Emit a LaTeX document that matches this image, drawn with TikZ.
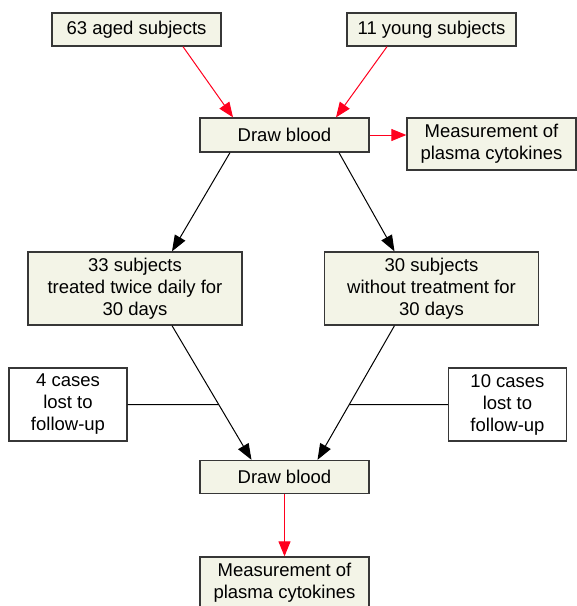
\documentclass[tikz,border=0pt]{standalone}
\usepackage{fontspec}
\setmainfont{Liberation Sans}
\usetikzlibrary{arrows.meta,calc,positioning}
\definecolor{boxfill}{RGB}{243,244,231}
\definecolor{boxline}{RGB}{55,55,55}
\definecolor{arrowred}{RGB}{255,0,30}
\tikzset{
  box/.style={draw=boxline, line width=1.3pt, fill=boxfill, align=center, inner sep=0pt, font=\fontsize{18.5}{22}\selectfont},
  lostbox/.style={box, fill=white, minimum width=118pt, minimum height=73pt},
  redarrow/.style={draw=arrowred, line width=1pt, -{Triangle[length=15pt,width=12pt]}},
  blackarrow/.style={draw=black, line width=1pt, -{Triangle[length=16pt,width=12pt]}}
}

\begin{document}
\begin{tikzpicture}[x=1pt,y=-1pt]
\useasboundingbox (0,0) rectangle (577,606);
% first blood draw
\node[box, minimum width=169pt, minimum height=33pt] (aged) at (136.5,29.5) {63 aged subjects};
\node[box, minimum width=169pt, minimum height=33pt] (young) at (431.5,29.5) {11 young subjects};
\node[box, minimum width=169pt, minimum height=34pt] (blood1) at (284.5,135) {Draw blood};
\node[box, minimum width=169pt, minimum height=52pt] (meas1) at (491.5,144) {Measurement of\\plasma cytokines};
% groups
\node[box, minimum width=214pt, minimum height=73pt] (treated) at (135,288.5) {33 subjects\\treated twice daily for\\30 days};
\node[box, minimum width=214pt, minimum height=73pt] (untreated) at (431.5,288.5) {30 subjects\\without treatment for\\30 days};
\node[lostbox] (lost4) at (68,404.5) {4 cases\\lost to\\follow-up};
\node[lostbox] (lost10) at (507.5,404.5) {10 cases\\lost to\\follow-up};
% second blood draw
\node[box, minimum width=169pt, minimum height=33pt] (blood2) at (284.5,477) {Draw blood};
\node[box, minimum width=169pt, minimum height=52pt] (meas2) at (284.5,583) {Measurement of\\plasma cytokines};

\draw[redarrow] ([xshift=46.5pt]aged.south) -- ([xshift=-51.5pt]blood1.north);
\draw[redarrow] ([xshift=-44.5pt]young.south) -- ([xshift=51.5pt]blood1.north);
\draw[redarrow] (blood1.east) -- (meas1.west |- blood1.east);
\draw[blackarrow] ([xshift=-54.5pt]blood1.south) -- ([xshift=37pt]treated.north);
\draw[blackarrow] ([xshift=54.5pt]blood1.south) -- ([xshift=-37pt]untreated.north);

\coordinate (tl) at ([xshift=37pt]treated.south);
\coordinate (tr) at ([xshift=-37pt]untreated.south);
\coordinate (bl) at ([xshift=-33pt]blood2.north);
\coordinate (br) at ([xshift=33pt]blood2.north);
\draw[blackarrow] (tl) -- (bl);
\draw[blackarrow] (tr) -- (br);
\coordinate (l4) at ([xshift=150pt]lost4.east);
\coordinate (l10) at ([xshift=-150pt]lost10.west);
\draw[line width=1pt] (lost4.east) -- (intersection of tl--bl and lost4.east--l4);
\draw[line width=1pt] (lost10.west) -- (intersection of tr--br and lost10.west--l10);
\draw[redarrow] (blood2.south) -- (meas2.north);
\end{tikzpicture}
\end{document}
